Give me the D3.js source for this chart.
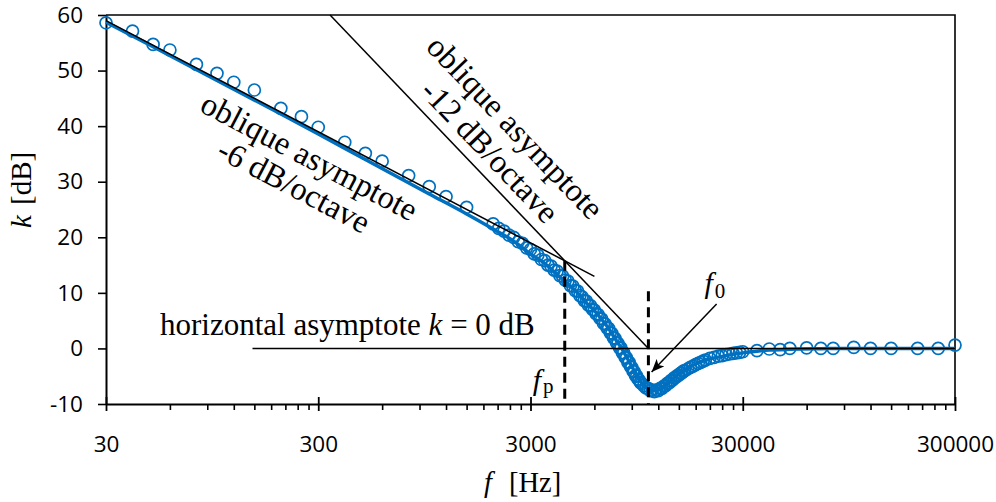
<!DOCTYPE html>
<html>
<head>
<meta charset="utf-8">
<script src="https://cdn.jsdelivr.net/npm/d3@7"></script>
<style>
  body { margin: 0; background: #fff; }
  svg { display: block; }
</style>
</head>
<body>
<svg id="chart" width="996" height="502"></svg>
<script>
// Measured transfer magnitude k [dB] versus frequency f [Hz]
const measuredFreq = [
  30, 40, 50, 60, 80, 100, 120, 150, 200, 250, 300, 400, 500, 600, 800, 1000, 1200, 1500,
  2000, 2125, 2250, 2375, 2500, 2625, 2750, 2875, 3000, 3125, 3250, 3375, 3500, 3625, 3750, 3875,
  4000, 4125, 4250, 4375, 4500, 4625, 4750, 4875, 5000, 5125, 5250, 5375, 5500, 5625, 5750, 5875,
  6000, 6125, 6250, 6375, 6500, 6625, 6750, 6875, 7000, 7125, 7250, 7375, 7500, 7625, 7750, 7875,
  8000, 8125, 8250, 8375, 8500, 8625, 8750, 8875, 9000, 9125, 9250, 9375, 9500, 9625, 9750, 9875,
  10000, 10250, 10500, 10750, 11000, 11250, 11500, 11750, 12000, 12250, 12500, 12750, 13000,
  13250, 13500, 13750, 14000, 14250, 14500, 14750, 15000, 15250, 15500, 15750, 16000, 16500,
  17000, 17500, 18000, 18500, 19000, 19500, 20000, 21000, 22000, 23000, 24000, 25000, 26000,
  27000, 28000, 29000, 30000, 35000, 40000, 45000, 50000, 60000, 70000, 80000, 100000, 120000,
  150000, 200000, 250000, 300000
];
const measuredK = [
  58.6, 57.1, 54.7, 53.7, 51.1, 49.5, 47.9, 46.5, 43.2, 41.7, 39.8, 37.1, 35.1, 33.7, 31.1, 29.1, 27.3, 25.4,
  22.4, 21.6, 21.1, 20.4, 20.0, 19.2, 18.9, 18.1, 17.8, 17.0, 16.8, 16.0, 15.8, 15.0, 14.8, 14.1,
  13.9, 13.1, 13.0, 12.3, 12.1, 11.3, 11.2, 10.4, 10.3, 9.5, 9.3, 8.6, 8.5, 7.8, 7.7, 7.0,
  6.9, 6.2, 6.1, 5.4, 5.3, 4.5, 4.4, 3.7, 3.6, 2.8, 2.7, 1.9, 1.8, 1.0, 0.9, 0.1,
  0.1, -0.8, -0.8, -1.6, -1.7, -2.5, -2.5, -3.3, -3.4, -4.1, -4.2, -4.9, -5.0, -5.5, -5.7, -6.1,
  -6.3, -6.7, -7.1, -7.2, -7.6, -7.5, -7.8, -7.5, -7.6, -7.2, -7.2, -6.8, -6.7,
  -6.3, -6.2, -5.8, -5.7, -5.3, -5.2, -4.9, -4.8, -4.5, -4.4, -4.1, -4.0, -3.7,
  -3.4, -3.2, -2.9, -2.7, -2.5, -2.3, -2.1, -1.8, -1.6, -1.4, -1.3, -1.1, -1.0,
  -0.9, -0.8, -0.7, -0.6, -0.4, -0.1, -0.2, 0.0, 0.1, 0.0, 0.0, 0.2, 0.0,
  0.0, 0.0, 0.0, 0.6
];

// Fitted response curve
const modelFreq = [
  30, 50, 100, 200, 300, 500, 1000, 1500, 2000, 2500, 3000, 3500, 4000, 4500, 5000, 5500, 6000,
  6500, 7000, 7500, 8000, 8500, 9000, 9500, 10000, 10500, 11000, 11500, 12000, 13000, 14000,
  15000, 16000, 18000, 20000, 22000, 25000, 30000, 35000, 40000, 50000, 70000, 100000, 300000
];
const modelK = [
  58.7, 54.3, 48.2, 42.2, 38.6, 34.0, 27.8, 24.2, 21.5, 19.3, 17.0, 15.3, 13.3, 11.6, 10.0, 8.2, 6.8,
  5.2, 3.6, 1.8, 0.2, -1.5, -3.2, -4.9, -6.2, -7.0, -7.5, -7.6, -7.4, -6.6, -5.5,
  -4.6, -3.9, -2.8, -2.1, -1.7, -1.3, -0.8, -0.5, -0.3, -0.15, -0.05, 0.0, 0.0
];

// Axis ticks
const xMajorTicks = [30, 300, 3000, 30000, 300000];
const xMinorMultipliers = [2, 3, 4, 5, 6, 7, 8, 9];
const yTicks = [-10, 0, 10, 20, 30, 40, 50, 60];

// Characteristic frequencies and asymptotes
const fp = 4350;            // corner frequency where the two oblique asymptotes meet
const kAtFp = 15.77;        // level at fp on the -6 dB/octave asymptote
const f0 = 10780;           // frequency where the -12 dB/octave asymptote reaches 0 dB
const slope6 = -20;         // dB per decade (-6 dB/octave)
const slope12 = -40;        // dB per decade (-12 dB/octave)

const svg = d3.select("#chart");
const plot = { left: 106, right: 955, top: 15, bottom: 404 };

const x = d3.scaleLog().domain([30, 300000]).range([plot.left, plot.right]);
const y = d3.scaleLinear().domain([-10, 60]).range([plot.bottom, plot.top]);

const blue = "#0070C0";
const serif = "'Liberation Serif', 'Times New Roman', serif";
const sans = "'Open Sans', 'Liberation Sans', sans-serif";

// Plot frame (top and right)
svg.append("path")
  .attr("d", `M${plot.left},${plot.top}H${plot.right}V${plot.bottom}`)
  .attr("fill", "none").attr("stroke", "#000").attr("stroke-width", 1.6);

// Y axis
const yAxis = svg.append("g")
  .attr("transform", `translate(${plot.left},0)`)
  .call(d3.axisLeft(y).tickValues(yTicks).tickSize(8).tickSizeOuter(0).tickPadding(15)
    .tickFormat(d => String(d)));
yAxis.select(".domain").attr("stroke-width", 2);
yAxis.selectAll(".tick line").attr("stroke-width", 1.6);
yAxis.selectAll("text").attr("font-family", sans).attr("font-size", 22.5).attr("fill", "#000");

// X axis: minor ticks (outward), then major ticks (crossing) with labels
const minorTicks = [];
[30, 300, 3000, 30000].forEach(d => xMinorMultipliers.forEach(m => minorTicks.push(d * m)));
const xMinor = svg.append("g")
  .attr("transform", `translate(0,${plot.bottom})`)
  .call(d3.axisBottom(x).tickValues(minorTicks).tickSize(6).tickSizeOuter(0).tickFormat(""));
xMinor.select(".domain").remove();
xMinor.selectAll(".tick line").attr("stroke-width", 1.6);

const xAxis = svg.append("g")
  .attr("transform", `translate(0,${plot.bottom})`)
  .call(d3.axisBottom(x).tickValues(xMajorTicks).tickSize(7).tickSizeOuter(0).tickPadding(25)
    .tickFormat(d => String(d)));
xAxis.select(".domain").attr("stroke-width", 2.2);
xAxis.selectAll(".tick line").attr("y1", -7).attr("stroke-width", 1.8);
xAxis.selectAll("text").attr("font-family", sans).attr("font-size", 22.5).attr("fill", "#000");

// Axis titles
const yTitle = svg.append("text")
  .attr("transform", "translate(31,0) rotate(-90)")
  .attr("font-family", serif).attr("font-size", 29);
yTitle.append("tspan").attr("x", -228).attr("font-style", "italic").text("k");
yTitle.append("tspan").attr("x", -205).text("[dB]");

const xTitle = svg.append("text")
  .attr("y", 492)
  .attr("font-family", serif).attr("font-size", 28.5);
xTitle.append("tspan").attr("x", 484).attr("font-style", "italic").text("f");
xTitle.append("tspan").attr("x", 509).text("[Hz]");

// Fitted curve
const line = d3.line()
  .x((d, i) => x(modelFreq[i]))
  .y(d => y(d))
  .curve(d3.curveMonotoneX);
svg.append("path")
  .datum(modelK)
  .attr("d", line)
  .attr("fill", "none").attr("stroke", blue).attr("stroke-width", 3.5);

// Measured points
svg.append("g")
  .selectAll("circle")
  .data(measuredK)
  .join("circle")
  .attr("cx", (d, i) => x(measuredFreq[i]))
  .attr("cy", d => y(d))
  .attr("r", 6)
  .attr("fill", "none")
  .attr("stroke", blue)
  .attr("stroke-width", 1.7);

// Asymptotes
const k6 = f => kAtFp + slope6 * Math.log10(f / fp);
const k12 = f => kAtFp + slope12 * Math.log10(f / fp);
const f6End = 6000;
const f12Start = fp * Math.pow(10, (60 - kAtFp) / slope12);
const asym = svg.append("g").attr("stroke", "#000").attr("stroke-width", 1.5).attr("fill", "none");
asym.append("line")
  .attr("x1", x(30)).attr("y1", y(k6(30)))
  .attr("x2", x(f6End)).attr("y2", y(k6(f6End)));
asym.append("line")
  .attr("x1", x(f12Start)).attr("y1", y(60))
  .attr("x2", x(f0)).attr("y2", y(k12(f0)));
asym.append("line")
  .attr("x1", x(147)).attr("y1", y(0))
  .attr("x2", x(300000)).attr("y2", y(0));

// Dashed markers at fp and f0
const dashed = svg.append("g").attr("stroke", "#000").attr("stroke-width", 3)
  .attr("stroke-dasharray", "10,6");
dashed.append("line")
  .attr("x1", x(fp)).attr("y1", y(kAtFp))
  .attr("x2", x(fp)).attr("y2", y(-10));
dashed.append("line")
  .attr("x1", x(f0)).attr("y1", y(10.3))
  .attr("x2", x(f0)).attr("y2", y(-10));

// Arrow pointing at f0
svg.append("defs").append("marker")
  .attr("id", "arrowhead")
  .attr("viewBox", "0 0 12 10")
  .attr("refX", 12).attr("refY", 5)
  .attr("markerUnits", "userSpaceOnUse")
  .attr("markerWidth", 13).attr("markerHeight", 11)
  .attr("orient", "auto")
  .append("path").attr("d", "M0,0 L12,5 L0,10 L3,5 Z").attr("fill", "#000");
svg.append("line")
  .attr("x1", x(22590)).attr("y1", y(8.0))
  .attr("x2", x(11160)).attr("y2", y(-4.25))
  .attr("stroke", "#000").attr("stroke-width", 1.5)
  .attr("marker-end", "url(#arrowhead)");

// Labels
const f0Label = svg.append("text")
  .attr("x", x(19800)).attr("y", y(10.0))
  .attr("font-family", serif).attr("font-size", 30);
f0Label.append("tspan").attr("font-style", "italic").text("f");
f0Label.append("tspan").attr("font-size", 21).attr("dy", 5).attr("dx", 2).text("0");

const fpLabel = svg.append("text")
  .attr("x", x(3070)).attr("y", y(-7.5))
  .attr("font-family", serif).attr("font-size", 30);
fpLabel.append("tspan").attr("font-style", "italic").text("f");
fpLabel.append("tspan").attr("font-size", 21).attr("dy", 3).attr("dx", 2).text("p");

const hLabel = svg.append("text")
  .attr("x", x(53.9)).attr("y", y(2.4))
  .attr("font-family", serif).attr("font-size", 31);
hLabel.append("tspan").text("horizontal asymptote ");
hLabel.append("tspan").attr("font-style", "italic").text("k");
hLabel.append("tspan").text(" = 0 dB");

function slopeAngle(fn, fa, fb) {
  return Math.atan2(y(fn(fb)) - y(fn(fa)), x(fb) - x(fa)) * 180 / Math.PI;
}

function obliqueLabel(fc, kc, angle, lines, gap) {
  const g = svg.append("g")
    .attr("transform", `translate(${x(fc)},${y(kc)}) rotate(${angle})`);
  lines.forEach((t, i) => {
    g.append("text")
      .attr("x", 0).attr("y", 10 + i * gap)
      .attr("text-anchor", "middle")
      .attr("font-family", serif).attr("font-size", 32.5)
      .text(t);
  });
}

obliqueLabel(271, 34.4, slopeAngle(k6, 100, 1000), ["oblique asymptote", "-6 dB/octave"], 33);
obliqueLabel(2523, 39.7, slopeAngle(k12, 1000, 10000), ["oblique asymptote", "-12 dB/octave"], 35);
</script>
</body>
</html>
